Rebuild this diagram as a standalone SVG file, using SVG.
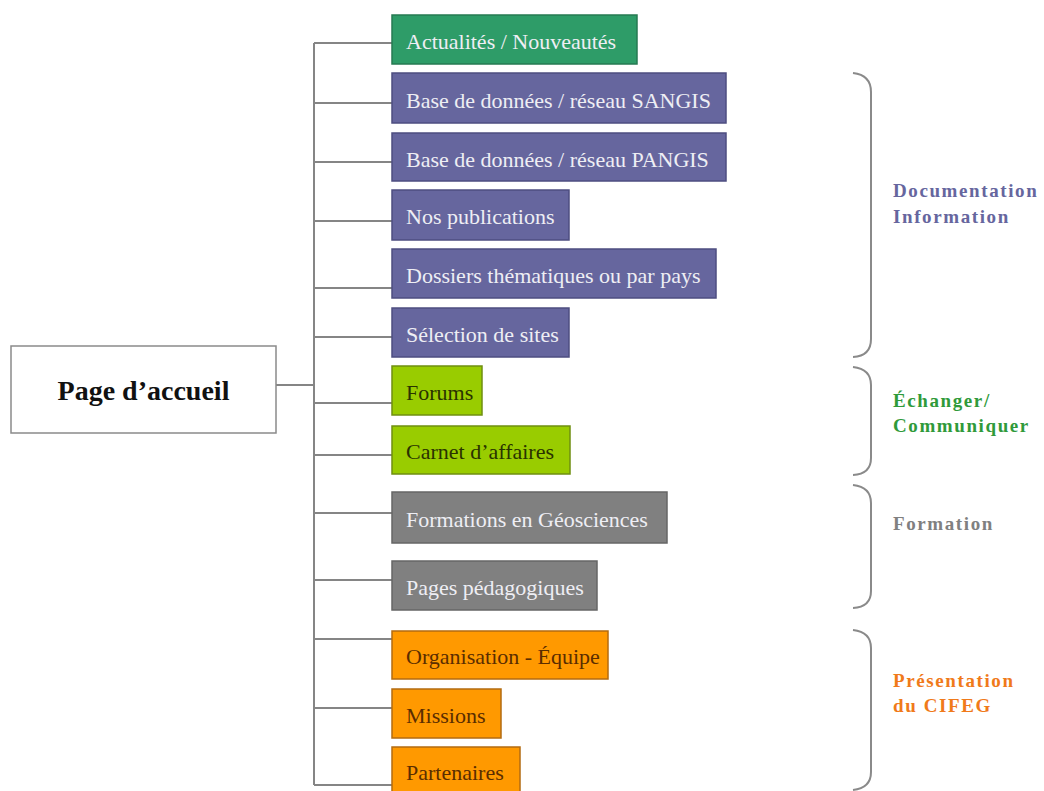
<svg xmlns="http://www.w3.org/2000/svg" width="1044" height="791" viewBox="0 0 1044 791">
<style>
  .box { stroke-width: 1.5; }
  .t { font-family: "Liberation Serif", "Times New Roman", serif; font-size: 22px; }
  .green { fill: #2e9c68; stroke: #267a52; }
  .purple { fill: #66669e; stroke: #4e4e80; }
  .lime { fill: #99cc00; stroke: #6f8f10; }
  .gray { fill: #808080; stroke: #666666; }
  .orange { fill: #ff9900; stroke: #b36b10; }
  .light { fill: #eeeef4; }
  .darkolive { fill: #2a3300; }
  .brown { fill: #5a2d00; }
  .conn { stroke: #858585; stroke-width: 2; fill: none; }
  .brace { stroke: #8a8a8a; stroke-width: 2; fill: none; }
  .lbl { font-family: "Liberation Serif", "Times New Roman", serif; font-size: 19px; font-weight: bold; letter-spacing: 1.6px; }
</style>
<rect width="1044" height="791" fill="#ffffff"/>
<g id="connectors">
  <line class="conn" x1="314" y1="43" x2="314" y2="785"/>
  <line class="conn" x1="276" y1="385" x2="314" y2="385"/>
  <line class="conn" x1="314" y1="43" x2="392" y2="43"/>
  <line class="conn" x1="314" y1="103" x2="392" y2="103"/>
  <line class="conn" x1="314" y1="162" x2="392" y2="162"/>
  <line class="conn" x1="314" y1="221" x2="392" y2="221"/>
  <line class="conn" x1="314" y1="288" x2="392" y2="288"/>
  <line class="conn" x1="314" y1="337" x2="392" y2="337"/>
  <line class="conn" x1="314" y1="403" x2="392" y2="403"/>
  <line class="conn" x1="314" y1="455" x2="392" y2="455"/>
  <line class="conn" x1="314" y1="513" x2="392" y2="513"/>
  <line class="conn" x1="314" y1="580" x2="392" y2="580"/>
  <line class="conn" x1="314" y1="639" x2="392" y2="639"/>
  <line class="conn" x1="314" y1="708" x2="392" y2="708"/>
  <line class="conn" x1="314" y1="785" x2="392" y2="785"/>
</g>
<g id="home">
  <rect x="11" y="346" width="265" height="87" fill="#ffffff" stroke="#8a8a8a" stroke-width="1.5"/>
  <text x="143.5" y="400" text-anchor="middle" font-family="'Liberation Serif', 'Times New Roman', serif" font-size="28" font-weight="bold" fill="#111111">Page d’accueil</text>
</g>
<g id="n-actualites">
  <rect class="box green" x="392" y="15" width="245" height="49"/>
  <text class="t light" x="406" y="49">Actualités / Nouveautés</text>
</g>
<g id="n-sangis">
  <rect class="box purple" x="392" y="73" width="334" height="50"/>
  <text class="t light" x="406" y="108">Base de données / réseau SANGIS</text>
</g>
<g id="n-pangis">
  <rect class="box purple" x="392" y="133" width="334" height="48"/>
  <text class="t light" x="406" y="167">Base de données / réseau PANGIS</text>
</g>
<g id="n-publications">
  <rect class="box purple" x="392" y="190" width="177" height="50"/>
  <text class="t light" x="406" y="224">Nos publications</text>
</g>
<g id="n-dossiers">
  <rect class="box purple" x="392" y="249" width="324" height="49"/>
  <text class="t light" x="406" y="283">Dossiers thématiques ou par pays</text>
</g>
<g id="n-selection">
  <rect class="box purple" x="392" y="308" width="177" height="49"/>
  <text class="t light" x="406" y="342">Sélection de sites</text>
</g>
<g id="n-forums">
  <rect class="box lime" x="392" y="366" width="90" height="49"/>
  <text class="t darkolive" x="406" y="400">Forums</text>
</g>
<g id="n-carnet">
  <rect class="box lime" x="392" y="426" width="178" height="48"/>
  <text class="t darkolive" x="406" y="459">Carnet d’affaires</text>
</g>
<g id="n-formations">
  <rect class="box gray" x="392" y="492" width="275" height="51"/>
  <text class="t light" x="406" y="527">Formations en Géosciences</text>
</g>
<g id="n-pedagogiques">
  <rect class="box gray" x="392" y="561" width="205" height="49"/>
  <text class="t light" x="406" y="595">Pages pédagogiques</text>
</g>
<g id="n-organisation">
  <rect class="box orange" x="392" y="631" width="216" height="48"/>
  <text class="t brown" x="406" y="664">Organisation - Équipe</text>
</g>
<g id="n-missions">
  <rect class="box orange" x="392" y="689" width="109" height="49"/>
  <text class="t brown" x="406" y="723">Missions</text>
</g>
<g id="n-partenaires">
  <rect class="box orange" x="392" y="747" width="128" height="49"/>
  <text class="t brown" x="406" y="780">Partenaires</text>
</g>
<g id="groups">
  <path class="brace" d="M853,73 Q871,75 871,92 L871,339 Q871,356 853,357"/>
  <path class="brace" d="M853,367 Q871,369 871,385 L871,458 Q871,474 853,475"/>
  <path class="brace" d="M853,485 Q871,487 871,503 L871,591 Q871,607 853,608"/>
  <path class="brace" d="M853,630 Q871,632 871,648 L871,772 Q871,788 853,790"/>
  <text class="lbl" x="893" y="197" fill="#66669e">Documentation</text>
  <text class="lbl" x="893" y="223" fill="#66669e">Information</text>
  <text class="lbl" x="893" y="407" fill="#2f9a3a">Échanger/</text>
  <text class="lbl" x="893" y="432" fill="#2f9a3a">Communiquer</text>
  <text class="lbl" x="893" y="530" fill="#808080">Formation</text>
  <text class="lbl" x="893" y="687" fill="#f07a1a">Présentation</text>
  <text class="lbl" x="893" y="712" fill="#f07a1a">du CIFEG</text>
</g>
</svg>
